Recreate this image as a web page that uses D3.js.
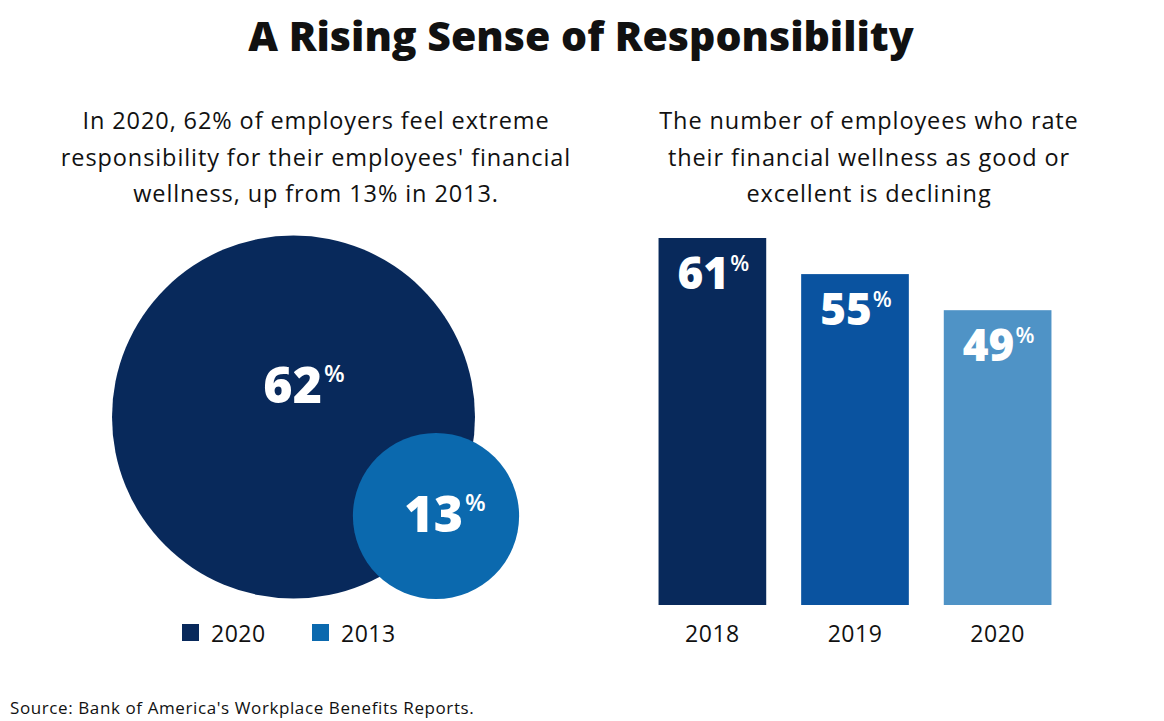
<!DOCTYPE html>
<html><head><meta charset="utf-8">
<script src="https://cdn.jsdelivr.net/npm/d3@7"></script>
<style>body{margin:0;background:#fff}svg{display:block}text{font-family:"Open Sans",sans-serif}</style>
</head><body>
<svg id="c" width="1164" height="721"></svg>
<script>
const circleYears = ["2020", "2013"];
const circleValues = [62, 13];
const circleColors = ["#08295b", "#0b69ae"];
const barYears = ["2018", "2019", "2020"];
const barValues = [61, 55, 49];
const barColors = ["#08295b", "#0a53a0", "#4f93c6"];
const titleText = "A Rising Sense of Responsibility";
const leftSub = ["In 2020, 62% of employers feel extreme", "responsibility for their employees' financial", "wellness, up from 13% in 2013."];
const rightSub = ["The number of employees who rate", "their financial wellness as good or", "excellent is declining"];
const sourceText = "Source: Bank of America's Workplace Benefits Reports.";

const FONT = "'Open Sans', sans-serif";
const svg = d3.select("#c");
svg.append("text").attr("x", 581).attr("y", 51).attr("text-anchor", "middle")
  .attr("font-size", 41).attr("font-weight", 800).attr("fill", "#111").text(titleText);

function sub(lines, cx) {
  svg.append("g").selectAll("text").data(lines).join("text")
    .attr("x", cx).attr("y", (d, i) => 129 + i * 36.5).attr("text-anchor", "middle")
    .attr("font-size", 23.5).attr("letter-spacing", 0.9).attr("fill", "#111").text(d => d);
}
sub(leftSub, 316);
sub(rightSub, 869);

// circles
const r = d3.scaleSqrt().domain([0, 62]).range([0, 181.5]);
const circlePos = [[293.5, 417], [436, 516]];
svg.append("g").selectAll("circle").data(circleValues).join("circle")
  .attr("cx", (d, i) => circlePos[i][0]).attr("cy", (d, i) => circlePos[i][1])
  .attr("r", d => r(d)).attr("fill", (d, i) => circleColors[i]);
const labelPos = [[304, 403], [445, 532]];
circleValues.forEach((v, i) => {
  const t = svg.append("text").attr("x", labelPos[i][0]).attr("y", labelPos[i][1])
    .attr("text-anchor", "middle").attr("fill", "#fff").attr("font-weight", 800).attr("font-size", 50);
  t.append("tspan").text(v);
  t.append("tspan").attr("font-size", 24).attr("font-weight", 600).attr("dx", 2).attr("dy", -21).text("%");
});

// legend
const lg = svg.append("g");
circleYears.forEach((y, i) => {
  const x0 = 182 + i * 130;
  lg.append("rect").attr("x", x0).attr("y", 624).attr("width", 17).attr("height", 17).attr("fill", circleColors[i]);
  lg.append("text").attr("x", x0 + 29).attr("y", 642).attr("font-size", 23).attr("font-weight", 500).attr("letter-spacing", 0.5).attr("fill", "#111").text(y);
});

// bars
const x = d3.scaleBand().domain(barYears).range([640, 1070]).paddingInner(0.245).paddingOuter(0.13);
const y = d3.scaleLinear().domain([0, 61]).range([605, 238]);
svg.append("g").selectAll("rect").data(barValues).join("rect")
  .attr("x", (d, i) => x(barYears[i])).attr("y", d => y(d))
  .attr("width", x.bandwidth()).attr("height", d => y(0) - y(d))
  .attr("fill", (d, i) => barColors[i]);
barValues.forEach((v, i) => {
  const t = svg.append("text").attr("x", x(barYears[i]) + x.bandwidth() / 2 + 1).attr("y", y(v) + 51)
    .attr("text-anchor", "middle").attr("fill", "#fff").attr("font-weight", 800).attr("font-size", 44);
  t.append("tspan").text(v);
  t.append("tspan").attr("font-size", 22).attr("font-weight", 600).attr("dx", 1).attr("dy", -18).text("%");
});
const ax = svg.append("g").attr("transform", "translate(0,605)")
  .call(d3.axisBottom(x).tickSize(0).tickPadding(21));
ax.select(".domain").remove();
ax.selectAll("text").attr("font-size", 23).attr("font-weight", 500).attr("letter-spacing", 0.5).attr("fill", "#111")
  .attr("font-family", FONT);

svg.append("text").attr("x", 10).attr("y", 714).attr("font-size", 17).attr("letter-spacing", 0.6).attr("fill", "#111").text(sourceText);
</script>
</body></html>
